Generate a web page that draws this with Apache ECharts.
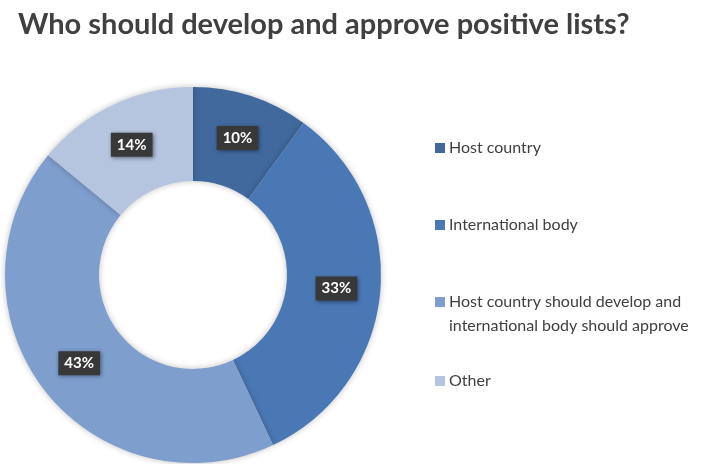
<!DOCTYPE html>
<html>
<head>
<meta charset="UTF-8">
<script src="https://cdn.jsdelivr.net/npm/echarts@6/dist/echarts.min.js"></script>
<style>
html,body{margin:0;padding:0;background:#fff;}
#chart{width:713px;height:464px;}
</style>
</head>
<body>
<div id="chart"></div>
<script>
// chart data
var categories = ['Host country', 'International body', 'Host country should develop and\ninternational body should approve', 'Other'];
var values = [10, 33, 43, 14];
var colors = ['#41699e', '#4a78b4', '#7e9ecd', '#b5c4df'];
var legendTops = [131, 208, 261, 364];

var myChart = echarts.init(document.getElementById('chart'));

var pieData = [];
for (var i = 0; i < categories.length; i++) {
	pieData.push({ name: categories[i], value: values[i], itemStyle: { color: colors[i] } });
}

// one legend per item so each row sits where it does in the picture
var legends = [];
for (var j = 0; j < categories.length; j++) {
	var multi = categories[j].indexOf('\n') >= 0;
	legends.push({
		orient: 'vertical',
		left: 430,
		top: legendTops[j],
		data: [categories[j]],
		icon: 'rect',
		itemWidth: 10,
		itemHeight: 10,
		itemGap: 0,
		selectedMode: false,
		formatter: multi ? function (n) { return '\n' + n; } : '{name}',
		textStyle: { fontFamily: 'Lato', fontSize: 16, color: '#404040', lineHeight: 24, padding: [0, 0, 0, -1] }
	});
}

var option = {
	animation: false,
	title: {
		text: 'Who should develop and approve positive lists?',
		left: 13,
		top: 5,
		textStyle: { fontFamily: 'Lato', fontWeight: 'bold', fontSize: 29, color: '#404040' }
	},
	legend: legends,
	series: [{
		type: 'pie',
		center: [193, 275],
		radius: [94, 188],
		startAngle: 90,
		clockwise: true,
		data: pieData,
		itemStyle: { shadowBlur: 6, shadowColor: 'rgba(0,0,0,0.25)' },
		label: {
			show: true,
			position: 'inside',
			formatter: '{c}%',
			fontFamily: 'Lato',
			fontWeight: 'bold',
			fontSize: 15,
			color: '#fff',
			backgroundColor: '#383838',
			padding: [5, 6, 4, 6],
			shadowBlur: 4,
			shadowColor: 'rgba(0,0,0,0.45)',
			shadowOffsetX: 1,
			shadowOffsetY: 1
		},
		labelLine: { show: false },
		emphasis: { disabled: true }
	}]
};

myChart.setOption(option);
</script>
</body>
</html>
